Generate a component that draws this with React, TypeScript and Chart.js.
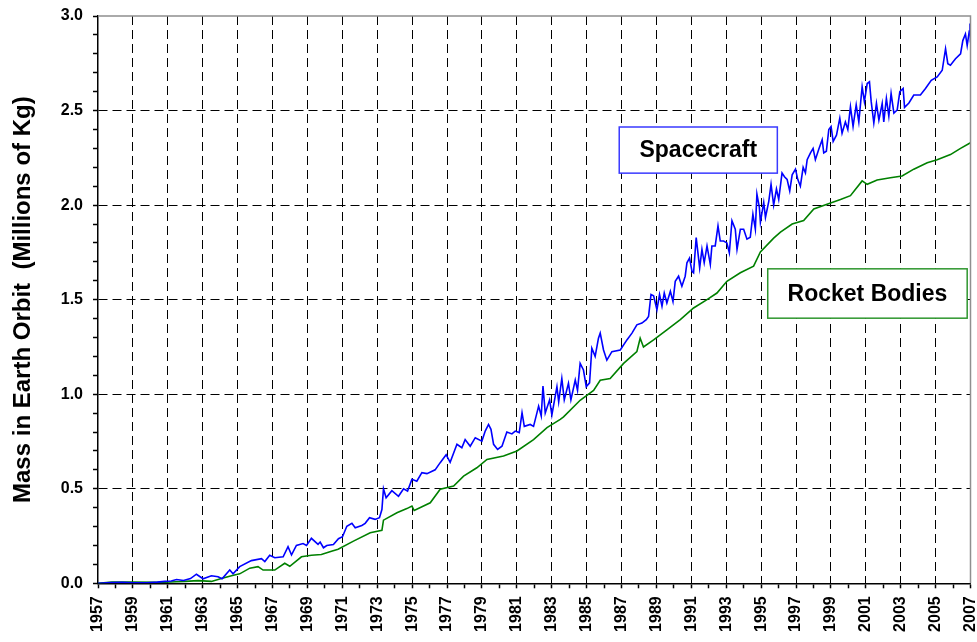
import React, { useEffect, useRef } from 'react';
import { Chart, registerables } from 'chart.js';

Chart.register(...registerables);

const spacecraftYears = [
  1957.0, 1957.75, 1958.4, 1959.0, 1959.8, 1960.4, 1960.82, 1961.2, 1961.5, 1961.9,
  1962.3, 1962.64, 1963.02, 1963.5, 1963.88, 1964.11, 1964.55, 1964.74, 1965.12, 1965.79,
  1966.37, 1966.56, 1966.84, 1967.13, 1967.61, 1967.89, 1968.09, 1968.37, 1968.75, 1968.95,
  1969.23, 1969.61, 1969.73, 1969.92, 1970.11, 1970.49, 1970.78, 1971.01, 1971.26, 1971.55,
  1971.74, 1972.12, 1972.31, 1972.56, 1972.88, 1973.13, 1973.27, 1973.36, 1973.51, 1973.84,
  1974.22, 1974.51, 1974.74, 1974.99, 1975.27, 1975.56, 1975.85, 1976.32, 1976.61, 1976.95,
  1977.18, 1977.57, 1977.85, 1978.04, 1978.33, 1978.62, 1979.0, 1979.19, 1979.38, 1979.52,
  1979.67, 1979.9, 1980.15, 1980.43, 1980.72, 1980.91, 1981.14, 1981.3, 1981.43, 1981.77,
  1981.96, 1982.25, 1982.4, 1982.5, 1982.63, 1982.88, 1983.01, 1983.3, 1983.4, 1983.58,
  1983.72, 1983.96, 1984.1, 1984.35, 1984.48, 1984.63, 1984.82, 1984.98, 1985.17, 1985.3,
  1985.49, 1985.68, 1985.78, 1985.97, 1986.16, 1986.45, 1986.93, 1987.31, 1987.6, 1987.88,
  1988.17, 1988.42, 1988.55, 1988.69, 1988.84, 1989.03, 1989.18, 1989.32, 1989.45, 1989.6,
  1989.8, 1989.95, 1990.08, 1990.27, 1990.46, 1990.65, 1990.75, 1990.9, 1991.04, 1991.13,
  1991.28, 1991.48, 1991.61, 1991.74, 1991.9, 1992.09, 1992.18, 1992.37, 1992.53, 1992.66,
  1992.85, 1993.04, 1993.18, 1993.33, 1993.52, 1993.62, 1993.81, 1994.0, 1994.19, 1994.38,
  1994.53, 1994.67, 1994.76, 1994.9, 1994.96, 1995.15, 1995.25, 1995.44, 1995.57, 1995.72,
  1995.88, 1996.01, 1996.2, 1996.34, 1996.49, 1996.64, 1996.78, 1996.97, 1997.1, 1997.25,
  1997.41, 1997.54, 1997.64, 1997.83, 1997.98, 1998.11, 1998.3, 1998.5, 1998.59, 1998.74,
  1998.88, 1999.01, 1999.13, 1999.32, 1999.51, 1999.64, 1999.83, 1999.97, 2000.12, 2000.27,
  2000.45, 2000.6, 2000.79, 2000.92, 2001.08, 2001.21, 2001.31, 2001.46, 2001.61, 2001.75,
  2001.94, 2002.03, 2002.18, 2002.32, 2002.45, 2002.61, 2002.8, 2002.95, 2003.14, 2003.22,
  2003.47, 2003.75, 2004.13, 2004.42, 2004.75, 2005.09, 2005.38, 2005.57, 2005.7, 2005.85,
  2006.14, 2006.43, 2006.56, 2006.71, 2006.81, 2006.93, 2006.97, 2007.0,
];

const spacecraftMass = [
  0, 0.004, 0.005, 0.003, 0.003, 0.006, 0.01, 0.012, 0.02, 0.015,
  0.025, 0.048, 0.024, 0.04, 0.035, 0.024, 0.07, 0.05, 0.088, 0.12,
  0.13, 0.115, 0.148, 0.135, 0.14, 0.194, 0.15, 0.2, 0.21, 0.2,
  0.238, 0.206, 0.218, 0.188, 0.2, 0.205, 0.236, 0.246, 0.302, 0.317,
  0.294, 0.306, 0.317, 0.347, 0.338, 0.347, 0.39, 0.5, 0.452, 0.49,
  0.46, 0.5, 0.488, 0.55, 0.54, 0.585, 0.58, 0.6, 0.638, 0.68,
  0.64, 0.735, 0.717, 0.76, 0.725, 0.77, 0.752, 0.805, 0.84, 0.814,
  0.735, 0.708, 0.725, 0.8, 0.79, 0.805, 0.797, 0.902, 0.83, 0.84,
  0.83, 0.937, 0.885, 1.043, 0.9, 0.97, 0.89, 1.04, 0.96, 1.083,
  0.97, 1.057, 0.97, 1.075, 1.02, 1.163, 1.128, 1.04, 1.06, 1.243,
  1.2, 1.296, 1.323, 1.234, 1.18, 1.225, 1.234, 1.287, 1.323, 1.367,
  1.376, 1.394, 1.411, 1.527, 1.52, 1.447, 1.527, 1.465, 1.535, 1.482,
  1.544, 1.49, 1.597, 1.624, 1.571, 1.624, 1.695, 1.72, 1.65, 1.642,
  1.828, 1.668, 1.766, 1.695, 1.784, 1.686, 1.784, 1.784, 1.89, 1.81,
  1.81, 1.8, 1.748, 1.917, 1.872, 1.766, 1.872, 1.872, 1.82, 1.83,
  1.952, 1.872, 2.058, 1.988, 1.909, 2.014, 1.935, 2.02, 2.11, 2.0,
  2.085, 2.03, 2.17, 2.15, 2.136, 2.075, 2.16, 2.19, 2.136, 2.1,
  2.2, 2.17, 2.24, 2.276, 2.3, 2.24, 2.294, 2.346, 2.276, 2.285,
  2.4, 2.416, 2.337, 2.37, 2.46, 2.38, 2.44, 2.4, 2.52, 2.416,
  2.53, 2.44, 2.626, 2.547, 2.643, 2.652, 2.547, 2.434, 2.538, 2.45,
  2.538, 2.44, 2.564, 2.47, 2.59, 2.486, 2.503, 2.6, 2.617, 2.517,
  2.54, 2.582, 2.582, 2.617, 2.66, 2.678, 2.713, 2.827, 2.748, 2.74,
  2.774, 2.8, 2.87, 2.905, 2.844, 2.92, 2.96, 2.86,
];

const rocketYears = [
  1957.0, 1957.8, 1959.0, 1960.5, 1961.5, 1962.0, 1962.73, 1963.5, 1964.07, 1964.65,
  1965.12, 1965.7, 1966.17, 1966.46, 1967.13, 1967.7, 1967.99, 1968.66, 1969.23, 1969.8,
  1970.38, 1970.76, 1971.64, 1972.6, 1973.27, 1973.36, 1974.13, 1974.7, 1974.99, 1975.12,
  1976.04, 1976.61, 1977.38, 1977.95, 1978.71, 1979.29, 1980.24, 1981.01, 1981.96, 1982.73,
  1983.49, 1983.68, 1984.63, 1985.4, 1985.78, 1986.35, 1987.12, 1987.88, 1988.07, 1988.26,
  1988.84, 1989.6, 1990.37, 1991.13, 1991.9, 1992.47, 1993.04, 1993.81, 1994.57, 1994.96,
  1995.72, 1996.11, 1996.78, 1997.44, 1998.02, 1998.78, 1999.55, 2000.12, 2000.79, 2001.08,
  2001.65, 2002.41, 2003.08, 2003.75, 2004.52, 2005.09, 2005.85, 2006.43, 2007.0,
];

const rocketMass = [
  0, 0.007, 0.006, 0.005, 0.008, 0.01, 0.014, 0.01, 0.025, 0.04,
  0.05, 0.08, 0.088, 0.07, 0.07, 0.106, 0.09, 0.14, 0.148, 0.152,
  0.17, 0.18, 0.223, 0.267, 0.28, 0.334, 0.373, 0.395, 0.408, 0.385,
  0.426, 0.497, 0.514, 0.567, 0.611, 0.655, 0.673, 0.7, 0.76, 0.823,
  0.867, 0.88, 0.968, 1.02, 1.074, 1.083, 1.163, 1.225, 1.296, 1.25,
  1.287, 1.34, 1.394, 1.456, 1.5, 1.535, 1.597, 1.642, 1.677, 1.752,
  1.825, 1.857, 1.9, 1.918, 1.98, 2.005, 2.03, 2.05, 2.128, 2.11,
  2.133, 2.145, 2.154, 2.19, 2.224, 2.24, 2.267, 2.3, 2.33,
];

const yearTickLabels = [
  1957, 1959, 1961, 1963, 1965, 1967, 1969, 1971, 1973, 1975, 1977, 1979, 1981,
  1983, 1985, 1987, 1989, 1991, 1993, 1995, 1997, 1999, 2001, 2003, 2005, 2007,
];
const massTickLabels = [0, 0.5, 1.0, 1.5, 2.0, 2.5, 3.0];

const seriesNames = ['Spacecraft', 'Rocket Bodies'];

// annotation boxes (in data units)
const labelBoxes = [
  { text: seriesNames[0], x0: 1986.87, x1: 1995.93, y0: 2.413, y1: 2.169, color: '#3a3aff' },
  { text: seriesNames[1], x0: 1995.38, x1: 2006.81, y0: 1.663, y1: 1.402, color: '#2e962e' },
];

const FONT = 'Arial, "Liberation Sans", Helvetica, sans-serif';

const isMajorYear = (v: number) => yearTickLabels.includes(Math.round(v));
const isMajorMass = (v: number) =>
  massTickLabels.some((m) => Math.abs(m - v) < 1e-6);

const framePlugin = {
  id: 'frameAndBoxes',
  afterDatasetsDraw(chart: any) {
    const { ctx, chartArea: a, scales } = chart;
    ctx.save();
    ctx.strokeStyle = '#8f8f8f';
    ctx.lineWidth = 1.5;
    ctx.beginPath();
    ctx.moveTo(a.left, a.top);
    ctx.lineTo(a.right, a.top);
    ctx.lineTo(a.right, a.bottom);
    ctx.stroke();

    for (const b of labelBoxes) {
      const x0 = scales.x.getPixelForValue(b.x0);
      const x1 = scales.x.getPixelForValue(b.x1);
      const y0 = scales.y.getPixelForValue(b.y0);
      const y1 = scales.y.getPixelForValue(b.y1);
      ctx.fillStyle = '#ffffff';
      ctx.fillRect(x0, y0, x1 - x0, y1 - y0);
      ctx.strokeStyle = b.color;
      ctx.lineWidth = 1.5;
      ctx.strokeRect(x0, y0, x1 - x0, y1 - y0);
      ctx.fillStyle = '#000000';
      ctx.font = `bold 23px ${FONT}`;
      ctx.textAlign = 'center';
      ctx.textBaseline = 'middle';
      ctx.fillText(b.text, (x0 + x1) / 2, (y0 + y1) / 2 + 1);
    }
    ctx.restore();
  },
};

export default function App() {
  const canvasRef = useRef<HTMLCanvasElement | null>(null);

  useEffect(() => {
    document.body.style.margin = '0';
    const canvas = canvasRef.current;
    if (!canvas) return;

    const chart = new Chart(canvas, {
      type: 'line',
      data: {
        datasets: [
          {
            label: seriesNames[0],
            data: spacecraftYears.map((x, i) => ({ x, y: spacecraftMass[i] })),
            borderColor: '#0000ff',
            borderWidth: 1.6,
            pointRadius: 0,
            tension: 0,
            fill: false,
          },
          {
            label: seriesNames[1],
            data: rocketYears.map((x, i) => ({ x, y: rocketMass[i] })),
            borderColor: '#008000',
            borderWidth: 1.6,
            pointRadius: 0,
            tension: 0,
            fill: false,
          },
        ],
      },
      options: {
        responsive: false,
        animation: false,
        devicePixelRatio: 1,
        layout: { padding: { top: 16, right: 6.5, left: 0, bottom: 0 } },
        plugins: {
          legend: { display: false },
          tooltip: { enabled: false },
        },
        scales: {
          x: {
            type: 'linear',
            min: 1957,
            max: 2007,
            ticks: {
              stepSize: 1,
              autoSkip: false,
              maxRotation: 90,
              minRotation: 90,
              padding: 8,
              color: '#000',
              font: { family: FONT, size: 16, weight: 'bold' },
              callback: (v: any) => (isMajorYear(Number(v)) ? String(Math.round(Number(v))) : ''),
            },
            grid: {
              color: (c: any) =>
                c.tick && isMajorYear(c.tick.value) && c.tick.value !== 1957 && c.tick.value !== 2007
                  ? '#000'
                  : 'rgba(0,0,0,0)',
              tickColor: '#000',
              tickLength: 5,
              lineWidth: 1,
              tickWidth: 1.5,
            },
            border: { color: '#000', width: 1.5, dash: [9, 5] },
            afterFit: (s: any) => {
              s.height = 642 - 583.3;
              s.paddingLeft = 0;
              s.paddingRight = 0;
            },
          },
          y: {
            type: 'linear',
            min: 0,
            max: 3,
            ticks: {
              stepSize: 0.1,
              autoSkip: false,
              padding: 10,
              color: '#000',
              font: { family: FONT, size: 16, weight: 'bold' },
              callback: (v: any) => (isMajorMass(Number(v)) ? Number(v).toFixed(1) : ''),
            },
            grid: {
              color: (c: any) =>
                c.tick && isMajorMass(c.tick.value) && c.tick.value > 0.01 && c.tick.value < 2.99
                  ? '#000'
                  : 'rgba(0,0,0,0)',
              tickColor: '#000',
              tickLength: 5,
              lineWidth: 1,
              tickWidth: 1.5,
            },
            border: { color: '#000', width: 1.5, dash: [9, 5] },
            title: {
              display: true,
              text: 'Mass in Earth Orbit  (Millions of Kg)',
              color: '#000',
              font: { family: FONT, size: 24, weight: 'bold' },
              padding: { top: 9, bottom: 0 },
            },
            afterFit: (s: any) => {
              s.width = 98;
              s.paddingTop = 0;
              s.paddingBottom = 0;
            },
          },
        },
      },
      plugins: [framePlugin],
    });

    return () => chart.destroy();
  }, []);

  return (
    <div style={{ position: 'absolute', left: 0, top: 0, width: 977, height: 642, background: '#fff' }}>
      <canvas ref={canvasRef} width={977} height={642} />
    </div>
  );
}
